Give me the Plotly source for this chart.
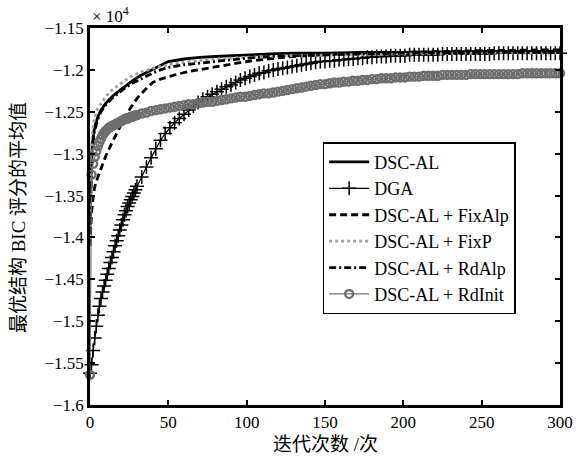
import plotly.graph_objects as go

# ---- data (values in units of 10^4) ----
iter_dense = list(range(0, 31)) + list(range(33, 301, 3))

dga_y = [-1.562, -1.552, -1.535, -1.520, -1.506, -1.493, -1.482, -1.473, -1.465, -1.458,
         -1.451, -1.444, -1.437, -1.430, -1.424, -1.417, -1.410, -1.404, -1.398, -1.391,
         -1.385, -1.379, -1.373, -1.368, -1.363, -1.359, -1.355, -1.351, -1.347, -1.343, -1.339,
         -1.328, -1.316, -1.305, -1.294, -1.284, -1.276, -1.269, -1.263, -1.258, -1.253,
         -1.248, -1.243, -1.239, -1.235, -1.232, -1.229, -1.226, -1.223, -1.220, -1.218,
         -1.215, -1.212, -1.210, -1.208, -1.206, -1.204, -1.203, -1.201, -1.200, -1.199,
         -1.198, -1.197, -1.196, -1.195, -1.194, -1.193, -1.192, -1.191, -1.190, -1.190,
         -1.189, -1.189, -1.188, -1.188, -1.187, -1.187, -1.186, -1.186, -1.185, -1.185,
         -1.184, -1.184, -1.184, -1.183, -1.183, -1.183, -1.183, -1.182, -1.182, -1.182,
         -1.182, -1.182, -1.182, -1.182, -1.181, -1.181, -1.181, -1.181, -1.181, -1.181,
         -1.181, -1.181, -1.181, -1.181, -1.181, -1.180, -1.180, -1.180, -1.180, -1.180,
         -1.180, -1.180, -1.180, -1.180, -1.180, -1.180, -1.180, -1.180, -1.180, -1.180]

rdinit_y = [-1.564, -1.325, -1.312, -1.304, -1.297, -1.291, -1.286, -1.282, -1.278, -1.275,
            -1.273, -1.271, -1.269, -1.268, -1.267, -1.266, -1.265, -1.264, -1.263, -1.262,
            -1.261, -1.260, -1.259, -1.258, -1.258, -1.257, -1.256, -1.256, -1.255, -1.254, -1.254,
            -1.252, -1.251, -1.249, -1.248, -1.247, -1.246, -1.245, -1.244, -1.243, -1.242,
            -1.241, -1.241, -1.240, -1.239, -1.238, -1.238, -1.237, -1.236, -1.235, -1.234,
            -1.233, -1.232, -1.232, -1.231, -1.230, -1.229, -1.228, -1.228, -1.227, -1.226,
            -1.225, -1.224, -1.223, -1.222, -1.221, -1.220, -1.219, -1.218, -1.217, -1.217,
            -1.216, -1.215, -1.215, -1.214, -1.214, -1.213, -1.213, -1.212, -1.212, -1.211,
            -1.211, -1.210, -1.210, -1.210, -1.209, -1.209, -1.209, -1.208, -1.208, -1.208,
            -1.207, -1.207, -1.207, -1.207, -1.206, -1.206, -1.206, -1.206, -1.206, -1.206,
            -1.205, -1.205, -1.205, -1.205, -1.205, -1.205, -1.205, -1.205, -1.205, -1.205,
            -1.205, -1.204, -1.204, -1.204, -1.204, -1.204, -1.204, -1.204, -1.204, -1.204]

dscal_x = [0, 1, 2, 3, 5, 7, 10, 14, 18, 22, 27, 32, 37, 41, 45, 50, 60, 70, 80, 90, 100, 115, 130, 150, 175, 200, 250, 300]
dscal_y = [-1.385, -1.300, -1.280, -1.268, -1.256, -1.248, -1.240, -1.232, -1.226, -1.220, -1.213, -1.207, -1.202, -1.198,
           -1.194, -1.190, -1.187, -1.185, -1.184, -1.183, -1.182, -1.181, -1.180, -1.180, -1.179, -1.179, -1.178, -1.178]

rdalp_y = [-1.395, -1.310, -1.285, -1.272, -1.259, -1.250, -1.242, -1.234, -1.228, -1.222, -1.216, -1.211, -1.206, -1.203,
           -1.200, -1.197, -1.194, -1.192, -1.190, -1.188, -1.186, -1.184, -1.183, -1.182, -1.181, -1.180, -1.179, -1.179]

fixp_x = [0, 1, 2, 3, 5, 7, 10, 14, 18, 22, 27, 32, 37, 42, 50, 60, 70, 80, 100, 130, 160, 200, 250, 300]
fixp_y = [-1.370, -1.290, -1.268, -1.256, -1.246, -1.240, -1.232, -1.224, -1.218, -1.213, -1.207, -1.203, -1.200, -1.197,
          -1.194, -1.191, -1.189, -1.187, -1.185, -1.183, -1.182, -1.181, -1.180, -1.180]

fixalp_x = [0, 1, 2, 3, 5, 7, 10, 14, 18, 22, 26, 30, 35, 40, 45, 50, 56, 63, 75, 88, 100, 113, 130, 150, 175, 200, 250, 300]
fixalp_y = [-1.410, -1.370, -1.352, -1.340, -1.328, -1.318, -1.303, -1.287, -1.272, -1.258, -1.245, -1.234, -1.224, -1.215,
            -1.211, -1.208, -1.205, -1.202, -1.198, -1.194, -1.190, -1.187, -1.184, -1.182, -1.180, -1.179, -1.177, -1.176]

x_ticks = [0, 50, 100, 150, 200, 250, 300]
y_ticks = [-1.15, -1.2, -1.25, -1.3, -1.35, -1.4, -1.45, -1.5, -1.55, -1.6]
y_tick_text = ["−1.15", "−1.2", "−1.25", "−1.3", "−1.35", "−1.4", "−1.45", "−1.5", "−1.55", "−1.6"]

FONT = "Liberation Serif, Noto Sans CJK SC"

fig = go.Figure()
fig.add_trace(go.Scatter(x=dscal_x, y=dscal_y, mode="lines", name="DSC-AL",
                         line=dict(color="black", width=2.8)))
fig.add_trace(go.Scatter(x=iter_dense, y=dga_y, mode="lines+markers", name="DGA",
                         line=dict(color="black", width=1.2),
                         marker=dict(symbol="cross-thin", size=10, color="black",
                                     line=dict(width=1.5, color="black")),
                         cliponaxis=False))
fig.add_trace(go.Scatter(x=fixalp_x, y=fixalp_y, mode="lines", name="DSC-AL + FixAlp",
                         line=dict(color="black", width=2.8, dash="7px,4px")))
fig.add_trace(go.Scatter(x=fixp_x, y=fixp_y, mode="lines", name="DSC-AL + FixP",
                         line=dict(color="#a0a0a0", width=2.8, dash="dot")))
fig.add_trace(go.Scatter(x=dscal_x, y=rdalp_y, mode="lines", name="DSC-AL + RdAlp",
                         line=dict(color="black", width=2.8, dash="7px,3px,2px,3px")))
fig.add_trace(go.Scatter(x=iter_dense, y=rdinit_y, mode="lines+markers", name="DSC-AL + RdInit",
                         line=dict(color="#6e6e6e", width=1.2),
                         marker=dict(symbol="circle-open", size=8, color="#6e6e6e",
                                     line=dict(width=2.4, color="#6e6e6e")),
                         cliponaxis=False))

axis_common = dict(showline=True, linecolor="black", linewidth=2.5, mirror="ticks",
                   ticks="inside", ticklen=5, tickwidth=1.5, tickcolor="black",
                   showgrid=False, zeroline=False,
                   tickfont=dict(family=FONT, size=17, color="black"))

fig.update_xaxes(range=[0, 300], tickvals=x_ticks, **axis_common)
fig.update_yaxes(range=[-1.6, -1.15], tickvals=y_ticks, ticktext=y_tick_text, **axis_common)

fig.update_layout(
    width=585, height=458,
    margin=dict(l=90, r=17, t=28, b=53),
    paper_bgcolor="white", plot_bgcolor="white",
    font=dict(family=FONT, color="black"),
    showlegend=True,
    legend=dict(x=0.495, y=0.697, xanchor="left", yanchor="top",
                bgcolor="white", bordercolor="black", borderwidth=1.5,
                font=dict(family=FONT, size=18, color="black"),
                itemwidth=40),
    annotations=[
        dict(text="× 10<sup>4</sup>", xref="paper", yref="paper", x=0.0, y=1.0,
             xanchor="left", yanchor="bottom", showarrow=False,
             font=dict(family=FONT, size=17, color="black")),
        dict(text="迭代次数 /次", xref="paper", yref="paper", x=0.5, y=-0.105,
             xanchor="center", yanchor="middle", showarrow=False,
             font=dict(family=FONT, size=19, color="black")),
        dict(text="最优结构 BIC 评分的平均值", xref="paper", yref="paper", x=-0.153, y=0.496,
             xanchor="center", yanchor="middle", textangle=-90, showarrow=False,
             font=dict(family=FONT, size=19, color="black")),
    ],
)

fig.write_html("out.html")
